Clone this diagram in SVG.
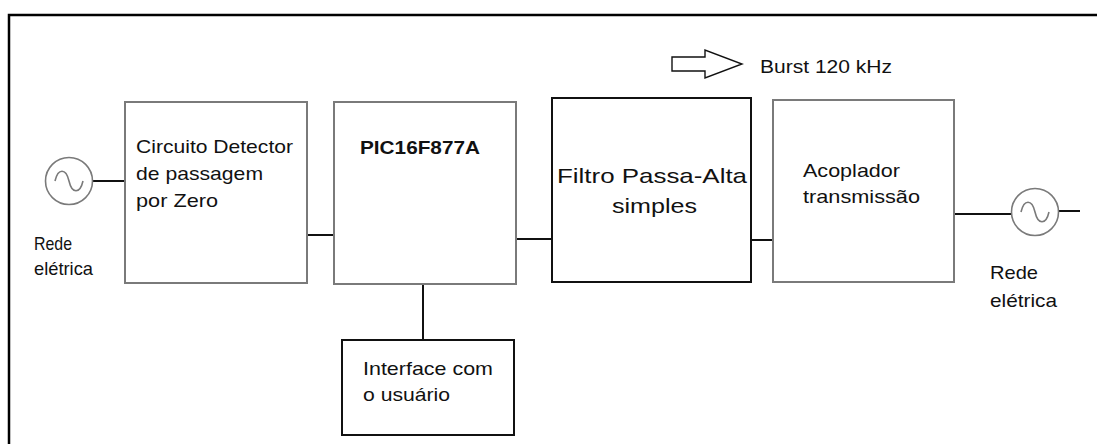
<svg xmlns="http://www.w3.org/2000/svg" width="1097" height="444" viewBox="0 0 1097 444">
<style>
  .t { font-family: "Liberation Sans", Arial, sans-serif; font-size: 19px; fill: #111; }
  .b { font-weight: bold; }
  .gbox { fill: #fff; stroke: #7a7a7a; stroke-width: 2; }
  .kbox { fill: #fff; stroke: #111; stroke-width: 2; }
  .wire { stroke: #111; stroke-width: 2; fill: none; }
  .src { fill: #fff; stroke: #7a7a7a; stroke-width: 1.6; }
  .wave { fill: none; stroke: #7a7a7a; stroke-width: 1.6; }
</style>
<rect width="1097" height="444" fill="#fff"/>
<path d="M9,444 V15 H1097" fill="none" stroke="#000" stroke-width="2.5"/>

<g id="connectors">
  <line class="wire" x1="92" y1="181" x2="125" y2="181"/>
  <line class="wire" x1="307" y1="235" x2="334" y2="235"/>
  <line class="wire" x1="516" y1="239" x2="552" y2="239"/>
  <line class="wire" x1="751" y1="240" x2="773" y2="240"/>
  <line class="wire" x1="954" y1="214" x2="1012" y2="214"/>
  <line class="wire" x1="1058" y1="211" x2="1080" y2="211"/>
  <line class="wire" x1="423" y1="284" x2="423" y2="340"/>
</g>

<g id="source-left">
  <circle class="src" cx="69" cy="181" r="23.5"/>
  <path class="wave" d="M55,181 C58,168 66,168 69,181 C72,194 80,194 83,181"/>
  <text class="t" x="34" y="250" textLength="38" lengthAdjust="spacingAndGlyphs">Rede</text>
  <text class="t" x="34" y="275" textLength="59" lengthAdjust="spacingAndGlyphs">elétrica</text>
</g>

<g id="zero-detector">
  <rect class="gbox" x="125" y="102" width="182" height="181"/>
  <text class="t" x="136" y="153" textLength="157" lengthAdjust="spacingAndGlyphs">Circuito Detector</text>
  <text class="t" x="136" y="180" textLength="127" lengthAdjust="spacingAndGlyphs">de passagem</text>
  <text class="t" x="136" y="207" textLength="82" lengthAdjust="spacingAndGlyphs">por Zero</text>
</g>

<g id="pic">
  <rect class="gbox" x="334" y="102" width="182" height="182"/>
  <text class="t b" x="360" y="154" textLength="120" lengthAdjust="spacingAndGlyphs">PIC16F877A</text>
</g>

<g id="filter">
  <rect class="kbox" x="552" y="98" width="199" height="184"/>
  <text class="t" x="557" y="183" textLength="190" lengthAdjust="spacingAndGlyphs" style="font-size:21px">Filtro Passa-Alta</text>
  <text class="t" x="612" y="213" textLength="85" lengthAdjust="spacingAndGlyphs" style="font-size:21px">simples</text>
</g>

<g id="coupler">
  <rect class="gbox" x="773" y="100" width="181" height="182"/>
  <text class="t" x="803" y="177" textLength="97" lengthAdjust="spacingAndGlyphs">Acoplador</text>
  <text class="t" x="803" y="203" textLength="117" lengthAdjust="spacingAndGlyphs">transmissão</text>
</g>

<g id="user-interface">
  <rect class="kbox" x="342" y="340" width="172" height="95"/>
  <text class="t" x="363" y="375" textLength="130" lengthAdjust="spacingAndGlyphs">Interface com</text>
  <text class="t" x="363" y="401" textLength="87" lengthAdjust="spacingAndGlyphs">o usuário</text>
</g>

<g id="source-right">
  <circle class="src" cx="1035" cy="212" r="23.5"/>
  <path class="wave" d="M1021,212 C1024,199 1032,199 1035,212 C1038,225 1046,225 1049,212"/>
  <text class="t" x="990" y="279" textLength="48" lengthAdjust="spacingAndGlyphs">Rede</text>
  <text class="t" x="990" y="307" textLength="67" lengthAdjust="spacingAndGlyphs">elétrica</text>
</g>

<g id="burst">
  <path d="M672,57 H705 V50 L742,64 L705,78 V71 H672 Z" fill="#fff" stroke="#111" stroke-width="1.4"/>
  <text class="t" x="760" y="73" textLength="132" lengthAdjust="spacingAndGlyphs">Burst 120 kHz</text>
</g>
</svg>
